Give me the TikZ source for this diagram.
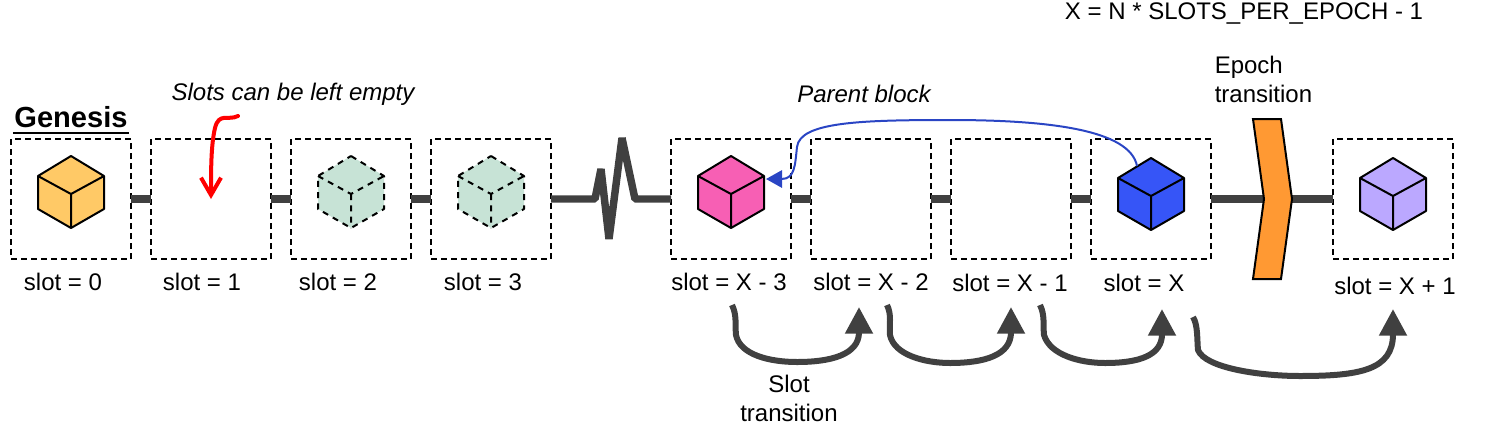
\documentclass[tikz,border=0pt]{standalone}
\usepackage{fontspec}
\setmainfont{Liberation Sans}
\usetikzlibrary{positioning, arrows.meta}

\definecolor{cubeyellow}{HTML}{FFC966}
\definecolor{cubegreen}{HTML}{C7E3D6}
\definecolor{cubepink}{HTML}{F75FB4}
\definecolor{cubeblue}{HTML}{3655F7}
\definecolor{cubepurple}{HTML}{BBA8FF}
\definecolor{linkgrey}{HTML}{404040}
\definecolor{epochorange}{HTML}{FF9933}
\definecolor{parentblue}{HTML}{2A45C4}

\tikzset{
    pics/cube/.style={code={
        \draw[line width=1.5pt, line join=round, pic actions]
            (0,-43) -- (33,-23) -- (33,10) -- (0,29) -- (-33,10) -- (-33,-23) -- cycle;
        \draw[line width=1.5pt, line join=round, pic actions, fill=none]
            (-33,-23) -- (0,-5) -- (33,-23) (0,-5) -- (0,29);
    }}
}

\begin{document}
\begin{tikzpicture}[
    x=0.75pt, y=-0.75pt,
    slotstyle/.style={
        draw, line width=1.5pt, dash pattern=on 4.5pt off 3pt,
        minimum size=90pt, inner sep=0pt, outer sep=0pt,
    },
    ghoststyle/.style={fill=cubegreen, dash pattern=on 4.5pt off 4pt},
    labelstyle/.style={font=\fontsize{18}{21.75}\selectfont, inner sep=0pt},
    notestyle/.style={font=\fontsize{18}{21.75}\selectfont\itshape, inner sep=0pt},
    linkstyle/.style={draw=linkgrey, line width=5.6pt},
    transitionstyle/.style={
        draw=linkgrey, line width=4.5pt,
        -{Triangle[length=20pt, width=20pt]}
    },
]
\useasboundingbox (0,0) rectangle (1504,426);

% Slots
\node[slotstyle] (S0) at (71,199) {};
\node[slotstyle, right=15pt of S0] (S1) {};
\node[slotstyle, right=15pt of S1] (S2) {};
\node[slotstyle, right=15pt of S2] (S3) {};
\node[slotstyle, right=90pt of S3] (SXm3) {};
\node[slotstyle, right=15pt of SXm3] (SXm2) {};
\node[slotstyle, right=15pt of SXm2] (SXm1) {};
\node[slotstyle, right=15pt of SXm1] (SX) {};
\node[slotstyle, right=91.5pt of SX] (SXp1) {};

% Cubes
\pic[fill=cubeyellow] at (S0) {cube};
\pic[ghoststyle] at (S2) {cube};
\pic[ghoststyle] at (S3) {cube};
\pic[fill=cubepink] at (SXm3) {cube};
\pic[fill=cubeblue] at ([yshift=-1.5pt]SX) {cube};
\pic[fill=cubepurple] at ([yshift=-1.5pt]SXp1) {cube};

% Links between slots
\draw[linkstyle] (S0.east) -- (S1.west);
\draw[linkstyle] (S1.east) -- (S2.west);
\draw[linkstyle] (S2.east) -- (S3.west);
\draw[linkstyle, line join=bevel] (S3.east) -- (595,199) -- (601,169) -- (609,239)
    -- (622,138) -- (635,199) -- (SXm3.west);
\draw[linkstyle] (SXm3.east) -- (SXm2.west);
\draw[linkstyle] (SXm2.east) -- (SXm1.west);
\draw[linkstyle] (SXm1.east) -- (SX.west);

% Epoch transition
\coordinate (epochin) at (1264,199);
\coordinate (epochout) at (1292,199);
\draw[linkstyle] (SX.east) -- (epochin);
\draw[linkstyle] (epochout) -- (SXp1.west);
\draw[fill=epochorange, line width=1.5pt] (1253,119) -- (1281,119) -- (epochout)
    -- (1281,279) -- (1253,279) -- (epochin) -- cycle;
\node[labelstyle, align=left, anchor=north west] (labelEpoch) at (1214.5,56) {Epoch\\transition};

% Labels
\node[labelstyle] (labelS0) at (63,282) {slot = 0};
\node[labelstyle] (labelS1) at (202,282) {slot = 1};
\node[labelstyle] (labelS2) at (338,282) {slot = 2};
\node[labelstyle] (labelS3) at (483,282) {slot = 3};
\node[labelstyle] (labelSXm3) at (729,282) {slot = X - 3};
\node[labelstyle] (labelSXm2) at (871,282) {slot = X - 2};
\node[labelstyle] (labelSXm1) at (1010,283) {slot = X - 1};
\node[labelstyle] (labelSX) at (1144,283) {slot = X};
\node[labelstyle] (labelSXp1) at (1395,286) {slot = X + 1};
\node[labelstyle] (labelX) at (1244,14) {X = N * SLOTS\_PER\_EPOCH - 1};
\node[notestyle] (labelEmpty) at (293,94) {Slots can be left empty};
\node[notestyle] (labelParent) at (864,94) {Parent block};
\node[labelstyle, align=center, anchor=north] (labelSlot) at (789,375) {Slot\\transition};

% Genesis
\node[inner xsep=1pt, inner ysep=3.5pt, font=\fontsize{21.8}{25}\selectfont\bfseries] (genesis) at (71,117.5) {Genesis};
\draw[line width=1.5pt] (genesis.south west) -- (genesis.south east);

% Empty slot note
\coordinate (emptyfrom) at (238,116);
\draw[red, line width=3pt, line cap=round, -{Straight Barb[length=13pt, width=15pt]}]
    (emptyfrom) .. controls (228,121) and (219,112) .. (215,128) .. controls (211,145) and (211,170) .. (S1.center);

% Parent block
\coordinate (parentfrom) at (1137,166);
\draw[parentblue, line width=1.5pt, -{Triangle[length=12pt, width=13pt]}]
    (parentfrom) .. controls (1130,130) and (1050,120) .. (950,120)
    .. controls (860,120) and (800,122) .. (797,147)
    .. controls (795,165) and (795,179) .. (766,179);

% Slot transitions
\coordinate (transA) at (732,305);
\coordinate (transB) at (859,307);
\coordinate (transC) at (887,305);
\coordinate (transD) at (1011,307);
\coordinate (transE) at (1040,305);
\coordinate (transF) at (1162,309);
\coordinate (transG) at (1193,317);
\coordinate (transH) at (1393,309);
\draw[transitionstyle] (transA) .. controls (737,315) and (735,325) .. (736,335)
    .. controls (740,355) and (770,362) .. (797,362) .. controls (830,362) and (859,355) .. (transB);
\draw[transitionstyle] (transC) .. controls (892,315) and (889,325) .. (890,335)
    .. controls (894,355) and (925,363) .. (950,363) .. controls (985,363) and (1011,355) .. (transD);
\draw[transitionstyle] (transE) .. controls (1045,315) and (1043,325) .. (1044,335)
    .. controls (1050,355) and (1080,363) .. (1105,363) .. controls (1140,363) and (1162,355) .. (transF);
\draw[transitionstyle] (transG) .. controls (1198,325) and (1197,340) .. (1198,350)
    .. controls (1205,368) and (1260,376) .. (1300,376) .. controls (1360,376) and (1393,370) .. (transH);

\end{tikzpicture}
\end{document}
